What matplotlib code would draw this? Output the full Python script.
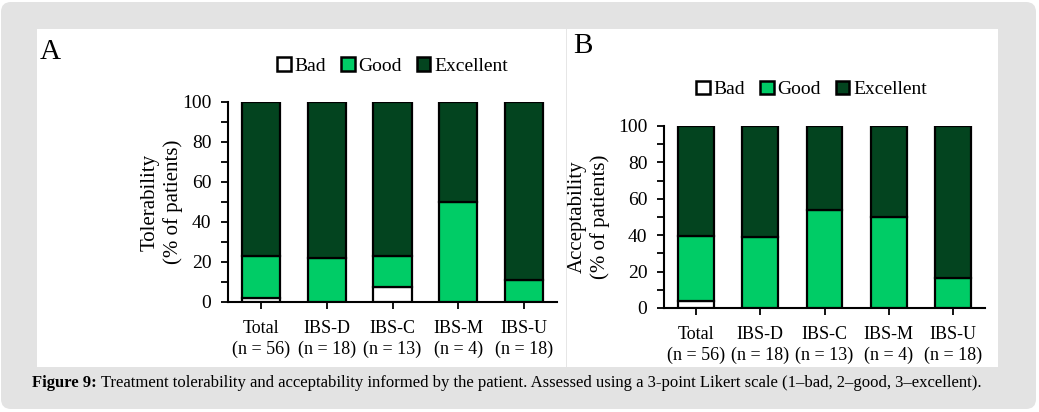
import numpy as np
import matplotlib
matplotlib.use("Agg")
import matplotlib.pyplot as plt
from matplotlib.patches import Patch, FancyBboxPatch, Rectangle

plt.rcParams['font.family'] = ['Liberation Serif', 'DejaVu Serif']

groups = ["Total", "IBS-D", "IBS-C", "IBS-M", "IBS-U"]
group_n = [56, 18, 13, 4, 18]
categories = ["Bad", "Good", "Excellent"]

# % of patients per group
tol_bad = [1.8, 0.0, 7.7, 0.0, 0.0]
tol_good = [21.4, 22.2, 15.4, 50.0, 11.1]
tol_excellent = [76.8, 77.8, 76.9, 50.0, 88.9]

acc_bad = [3.6, 0.0, 0.0, 0.0, 0.0]
acc_good = [35.7, 38.9, 53.8, 50.0, 16.7]
acc_excellent = [60.7, 61.1, 46.2, 50.0, 83.3]

colors = ["white", "#00cc66", "#03441f"]
W, H = 1039, 412


def px_box(x0, y0, x1, y1):
    # pixel box (top-left origin) -> figure fraction
    return [x0 / W, 1 - y1 / H, (x1 - x0) / W, (y1 - y0) / H]


def draw_panel(ax, bad, good, exc, ylabel, width, label_x, legend_y, legend_x):
    x = np.arange(len(groups))
    bottom = np.zeros(len(groups))
    for vals, col, lab in zip([bad, good, exc], colors, categories):
        ax.bar(x, vals, width, bottom=bottom, color=col, edgecolor="black",
               linewidth=1.6, label=lab, zorder=3)
        bottom += np.array(vals)
    ax.set_xlim(-0.5, len(groups) - 0.5)
    ax.set_ylim(0, 100)
    ax.set_yticks(np.arange(0, 101, 20))
    ax.set_yticks(np.arange(10, 100, 20), minor=True)
    ax.set_xticks(x)
    ax.set_xticklabels([f"{g}\n(n = {n})" for g, n in zip(groups, group_n)],
                       fontsize=13, linespacing=1.3)
    ax.tick_params(axis="y", which="both", length=5, width=1.3, labelsize=14, pad=7)
    ax.tick_params(axis="x", length=5, width=1.3, pad=8)
    for s in ["top", "right"]:
        ax.spines[s].set_visible(False)
    for s in ["left", "bottom"]:
        ax.spines[s].set_linewidth(1.5)
    ax.set_ylabel(ylabel, fontsize=15, linespacing=1.2)
    ax.yaxis.set_label_coords(label_x, 0.5)
    handles = [Patch(facecolor=c, edgecolor="black", linewidth=1.8) for c in colors]
    ax.legend(handles, categories, loc="center", bbox_to_anchor=(legend_x, legend_y),
              ncol=3, frameon=False, fontsize=14, handlelength=0.7,
              handleheight=0.7, handletextpad=0.2, columnspacing=0.75,
              borderaxespad=0)


fig = plt.figure(figsize=(W / 100, H / 100), dpi=100, facecolor="white")

# gray frame and white panels
fig.patches.append(FancyBboxPatch((0.01, 0.03), 10.35, 4.07,
                                  boxstyle="round,pad=0,rounding_size=0.1",
                                  transform=fig.dpi_scale_trans,
                                  facecolor="#e3e3e3", edgecolor="none", zorder=0))
fig.patches.append(Rectangle((37 / W, 1 - 367 / H), (998 - 37) / W, (367 - 29) / H,
                             transform=fig.transFigure, facecolor="white",
                             edgecolor="none", zorder=1))
fig.patches.append(Rectangle((566 / W, 1 - 367 / H), 1.2 / W, (367 - 29) / H,
                             transform=fig.transFigure, facecolor="#e6e6e6",
                             edgecolor="none", zorder=2))

axA = fig.add_axes(px_box(228, 102, 557, 302))
axB = fig.add_axes(px_box(664, 126, 985, 308))
for a in (axA, axB):
    a.set_facecolor("none")
    a.set_zorder(5)

draw_panel(axA, tol_bad, tol_good, tol_excellent, "Tolerability\n(% of patients)",
           0.58, -0.137, 1.18, 0.5)
draw_panel(axB, acc_bad, acc_good, acc_excellent, "Acceptability\n(% of patients)",
           0.56, -0.168, 1.20, 0.46)

fig.text(40 / W, 1 - 52 / H, "A", fontsize=21, va="center", ha="left", zorder=6)
fig.text(573 / W, 1 - 46 / H, "B", fontsize=21, va="center", ha="left", zorder=6)

# caption: bold lead-in followed by regular text
cap_y = 1 - 383 / H
t1 = fig.text(32 / W, cap_y, "Figure 9:", fontsize=12, fontweight="bold",
              va="center", ha="left", zorder=6)
fig.canvas.draw()
bb = t1.get_window_extent(renderer=fig.canvas.get_renderer())
fig.text(bb.x1 / W + 4 / W, cap_y,
         "Treatment tolerability and acceptability informed by the patient. "
         "Assessed using a 3-point Likert scale (1\u2013bad, 2\u2013good, 3\u2013excellent).",
         fontsize=12, va="center", ha="left", zorder=6)

fig.savefig("out.png", dpi=100, facecolor="white")
